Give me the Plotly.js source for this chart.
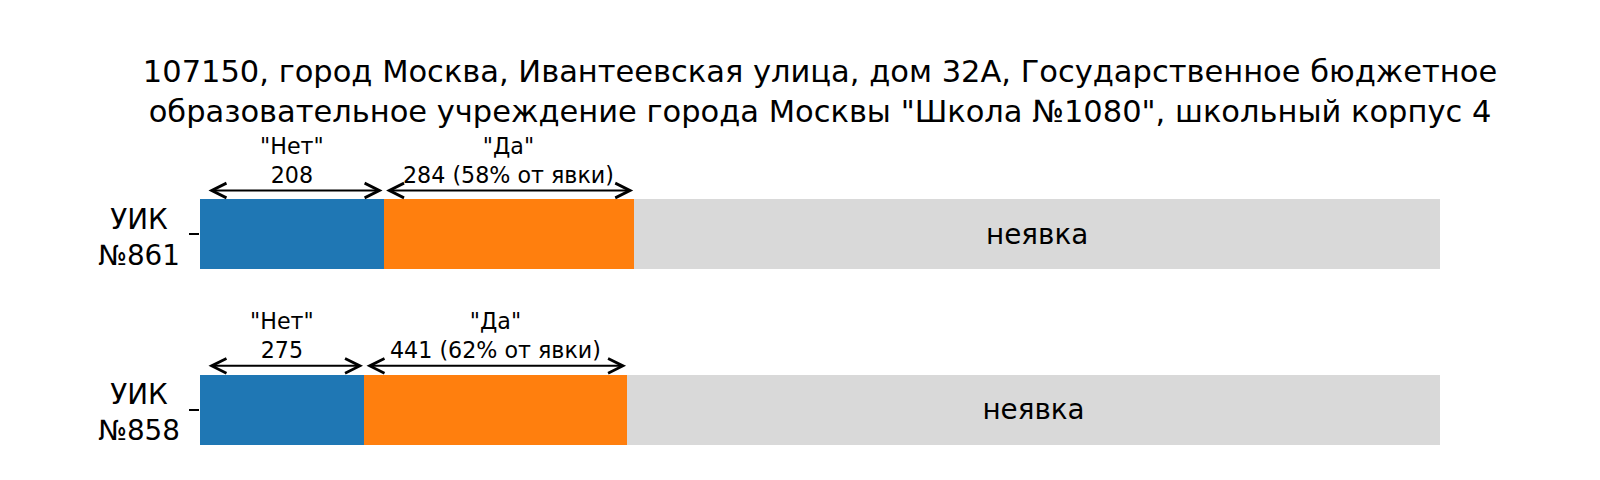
<!DOCTYPE html>
<html>
<head>
<meta charset="utf-8">
<script src="https://cdn.plot.ly/plotly-3.0.1.min.js"></script>
<style>html,body{margin:0;padding:0;background:#fff;}#chart{width:1600px;height:480px;}</style>
</head>
<body>
<div id="chart"></div>
<script>
// ---- data ----
var uikLabels = ['УИК<br>№861', 'УИК<br>№858'];
var netVotes = [208, 275];
var daVotes = [284, 441];
var noShowVotes = [913, 1363];
var titleText = '107150, город Москва, Ивантеевская улица, дом 32А, Государственное бюджетное<br>образовательное учреждение города Москвы "Школа №1080", школьный корпус 4';

// ---- derived ----
var yPos = uikLabels.map(function (_, i) { return i; });
var totals = netVotes.map(function (v, i) { return v + daVotes[i] + noShowVotes[i]; });
var netFrac = netVotes.map(function (v, i) { return v / totals[i]; });
var daFrac = daVotes.map(function (v, i) { return v / totals[i]; });
var noFrac = noShowVotes.map(function (v, i) { return v / totals[i]; });

var FONT = 'DejaVu Sans';
var traces = [
  {type: 'bar', orientation: 'h', y: yPos, x: netFrac, width: 0.4,
   marker: {color: '#1f77b4', line: {width: 0}}, hoverinfo: 'skip'},
  {type: 'bar', orientation: 'h', y: yPos, x: daFrac, width: 0.4,
   marker: {color: '#ff7f0e', line: {width: 0}}, hoverinfo: 'skip'},
  {type: 'bar', orientation: 'h', y: yPos, x: noFrac, width: 0.4,
   marker: {color: '#d9d9d9', line: {width: 0}}, hoverinfo: 'skip',
   text: yPos.map(function () { return 'неявка'; }),
   textposition: 'inside', insidetextanchor: 'middle', textangle: 0,
   constraintext: 'none',
   textfont: {family: FONT, size: 27.8, color: '#000'}}
];

var annotations = [];
var ARROW_OFF = 0.25;
yPos.forEach(function (p, i) {
  // y category label
  annotations.push({xref: 'paper', yref: 'y', x: 0, y: p, xshift: -18, yshift: -3,
    xanchor: 'right', yanchor: 'middle', align: 'center', showarrow: false,
    text: uikLabels[i], font: {family: FONT, size: 27.8, color: '#000'}});
  var segs = [
    {start: 0, end: netFrac[i], label: '"Нет"<br>' + netVotes[i]},
    {start: netFrac[i], end: netFrac[i] + daFrac[i],
     label: '"Да"<br>' + daVotes[i] + ' (' + Math.round(100 * daVotes[i] / (netVotes[i] + daVotes[i])) + '% от явки)'}
  ];
  segs.forEach(function (s) {
    annotations.push({xref: 'x', yref: 'y', axref: 'x', ayref: 'y',
      x: s.end, y: p - ARROW_OFF, ax: s.start, ay: p - ARROW_OFF,
      text: '', showarrow: true, arrowside: 'end+start', arrowhead: 5,
      arrowsize: 1.45, arrowwidth: 2, arrowcolor: '#000',
      standoff: 1, startstandoff: s.start === 0 ? 7 : 1});
    annotations.push({xref: 'x', yref: 'y', x: (s.start + s.end) / 2, y: p - ARROW_OFF,
      xanchor: 'center', yanchor: 'bottom', yshift: 1, showarrow: false, align: 'center',
      text: s.label, font: {family: FONT, size: 22.2, color: '#000'}});
  });
});

var layout = {
  width: 1600, height: 480,
  margin: {l: 200, r: 160, t: 187, b: 23, pad: 0},
  paper_bgcolor: '#fff', plot_bgcolor: '#fff',
  barmode: 'stack', showlegend: false, bargap: 0,
  font: {family: FONT, color: '#000'},
  title: {text: titleText, x: 0.5, xref: 'paper', xanchor: 'center',
    y: 1 - 82 / 480, yref: 'container', yanchor: 'top',
    font: {family: FONT, size: 30.5, color: '#000'}},
  xaxis: {range: [0, 1], visible: false, fixedrange: true},
  yaxis: {range: [1.27, -0.27], tickvals: yPos, ticktext: yPos.map(function () { return ''; }),
    showticklabels: false, ticks: 'outside', ticklen: 10, tickwidth: 1.8, tickcolor: '#000',
    showline: false, showgrid: false, zeroline: false, fixedrange: true},
  annotations: annotations
};

Plotly.newPlot('chart', traces, layout, {displayModeBar: false, staticPlot: true});
</script>
</body>
</html>
